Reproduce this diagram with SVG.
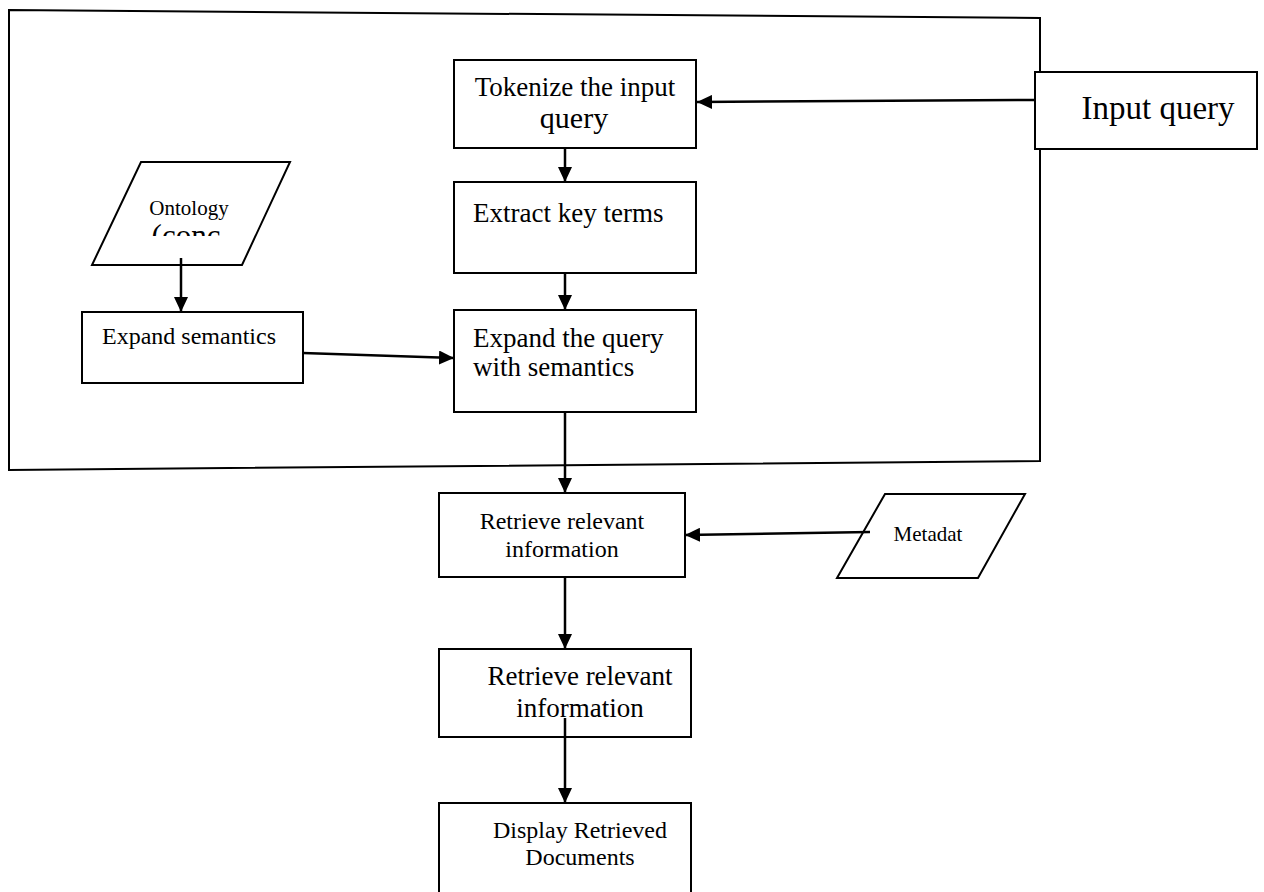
<svg xmlns="http://www.w3.org/2000/svg" width="1264" height="892" viewBox="0 0 1264 892">
<style>
.b{fill:#fff;stroke:#000;stroke-width:2}
.t{font-family:"Liberation Serif","Times New Roman",serif;fill:#000;text-anchor:middle}
.l{text-anchor:start}
.c{stroke:#000;stroke-width:2.5;fill:none;marker-end:url(#ah)}
</style>
<defs>
<marker id="ah" viewBox="0 0 15 14" refX="15" refY="7" markerWidth="15" markerHeight="14" markerUnits="userSpaceOnUse" orient="auto">
<path d="M0,0 L15,7 L0,14 Z" fill="#000"/>
</marker>
<clipPath id="oc"><rect x="80" y="160" width="220" height="76"/></clipPath>
</defs>
<rect width="1264" height="892" fill="#fff"/>
<g id="frame"><path d="M9,10 L1040,18 L1040,461 L9,470 Z" fill="none" stroke="#000" stroke-width="2"/></g>
<g id="tokenize"><rect class="b" x="454" y="60" width="242" height="88"/><text class="t" x="575" y="96" font-size="27">Tokenize the input</text><text class="t" x="574" y="128" font-size="30">query</text></g>
<g id="input"><rect class="b" x="1035" y="72" width="222" height="77"/><text class="t" x="1158" y="119" font-size="33">Input query</text></g>
<g id="extract"><rect class="b" x="454" y="182" width="242" height="91"/><text class="t l" x="473" y="222" font-size="27">Extract key terms</text></g>
<g id="expandq"><rect class="b" x="454" y="310" width="242" height="102"/><text class="t l" x="473" y="347" font-size="27">Expand the query</text><text class="t l" x="473" y="376" font-size="27">with semantics</text></g>
<g id="ontology"><path class="b" d="M141,162 L290,162 L242,265 L92,265 Z"/><text class="t" x="189" y="215" font-size="21">Ontology</text><g clip-path="url(#oc)"><text class="t" x="186" y="246" font-size="31">(conc</text></g></g>
<g id="expands"><rect class="b" x="82" y="312" width="221" height="71"/><text class="t" x="189" y="344" font-size="24">Expand semantics</text></g>
<g id="retrieve1"><rect class="b" x="439" y="493" width="246" height="84"/><text class="t" x="562" y="529" font-size="24">Retrieve relevant</text><text class="t" x="562" y="557" font-size="24">information</text></g>
<g id="metadat"><path class="b" d="M885,494 L1025,494 L978,578 L837,578 Z"/><text class="t" x="928" y="541" font-size="21">Metadat</text></g>
<g id="retrieve2"><rect class="b" x="439" y="649" width="252" height="88"/><text class="t" x="580" y="685" font-size="27">Retrieve relevant</text><text class="t" x="580" y="717" font-size="27">information</text></g>
<g id="display"><rect class="b" x="439" y="803" width="252" height="95"/><text class="t" x="580" y="838" font-size="24">Display Retrieved</text><text class="t" x="580" y="865" font-size="24">Documents</text></g>
<g id="connectors">
<path class="c" d="M1035,100 L697,102"/>
<path class="c" d="M565,148 L565,182"/>
<path class="c" d="M565,273 L565,310"/>
<path class="c" d="M181,258 L181,312"/>
<path class="c" d="M303,353 L454,358"/>
<path class="c" d="M565,412 L565,493"/>
<path class="c" d="M870,532 L685,535"/>
<path class="c" d="M565,577 L565,649"/>
<path class="c" d="M565,718 L565,803"/>
</g>
</svg>
